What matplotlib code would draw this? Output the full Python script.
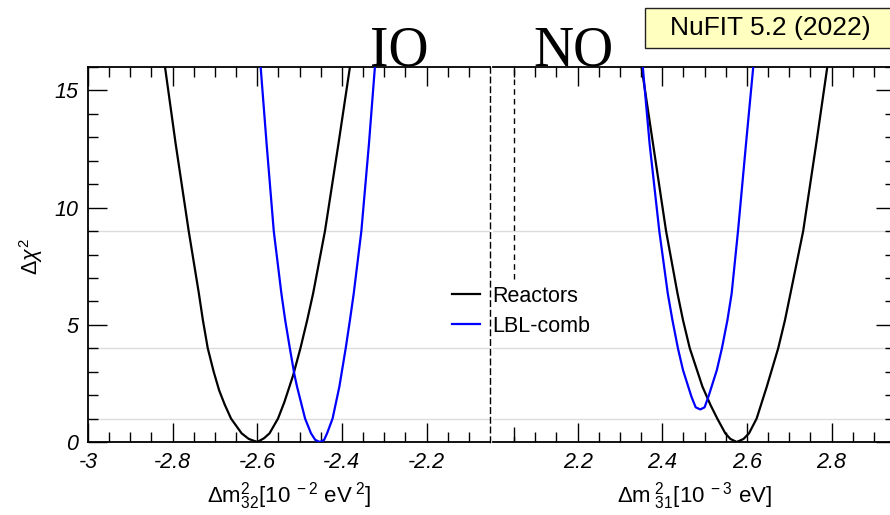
import matplotlib
matplotlib.use("Agg")
import matplotlib.pyplot as plt
from matplotlib.ticker import FixedLocator, FixedFormatter
from matplotlib.patches import Rectangle
from matplotlib.lines import Line2D

plt.rcParams['font.family'] = ['Liberation Sans', 'DejaVu Sans']
plt.rcParams['mathtext.fontset'] = 'custom'
plt.rcParams['mathtext.rm'] = 'Liberation Sans'
plt.rcParams['mathtext.it'] = 'Liberation Sans:italic'
plt.rcParams['mathtext.bf'] = 'Liberation Sans:bold'

# ---------------- data ----------------
# IO panel
io_react_x = [-2.818, -2.793, -2.762, -2.738, -2.7285, -2.717, -2.703, -2.690, -2.677,
              -2.662, -2.637, -2.620, -2.600, -2.584, -2.571, -2.551, -2.536, -2.524,
              -2.515, -2.498, -2.482, -2.468, -2.440, -2.408, -2.381]
io_react_y = [16.0, 12.74, 9.0, 6.34, 5.2, 4.0, 3.0, 2.2, 1.6,
              1.0, 0.37, 0.13, 0.0, 0.16, 0.37, 1.0, 1.7, 2.36,
              2.86, 4.0, 5.2, 6.34, 9.0, 12.74, 16.0]
io_lbl_x = [-2.592, -2.578, -2.561, -2.543, -2.534, -2.523, -2.512, -2.506, -2.487,
            -2.473, -2.463, -2.452, -2.442, -2.435, -2.422, -2.406, -2.391, -2.381,
            -2.372, -2.354, -2.336, -2.322]
io_lbl_y = [16.0, 12.74, 9.0, 6.34, 5.2, 4.0, 2.86, 2.36, 1.0,
            0.37, 0.09, 0.0, 0.09, 0.37, 1.0, 2.36, 4.0, 5.2,
            6.34, 9.0, 12.74, 16.0]

# NO panel
no_react_x = [2.351, 2.378, 2.409, 2.436, 2.449, 2.465, 2.495, 2.514, 2.530, 2.549,
              2.561, 2.576, 2.592, 2.605, 2.623, 2.647, 2.674, 2.690, 2.703, 2.733,
              2.764, 2.790]
no_react_y = [16.0, 12.74, 9.0, 6.34, 5.2, 4.0, 2.36, 1.58, 1.0, 0.37,
              0.13, 0.0, 0.13, 0.37, 1.0, 2.36, 4.0, 5.2, 6.34, 9.0,
              12.74, 16.0]
no_lbl_x = [2.354, 2.370, 2.393, 2.413, 2.424, 2.437, 2.449, 2.469, 2.479, 2.490,
            2.500, 2.509, 2.529, 2.541, 2.554, 2.564, 2.579, 2.598, 2.615]
no_lbl_y = [16.0, 12.74, 9.0, 6.34, 5.2, 4.0, 3.07, 1.93, 1.48, 1.39,
            1.48, 1.93, 3.07, 4.0, 5.2, 6.34, 9.0, 12.74, 16.0]

ref_levels = [1, 4, 9]
y_major = [0, 5, 10, 15]
y_major_labels = ['0', '5', '10', '15']
y_minor = [1, 2, 3, 4, 6, 7, 8, 9, 11, 12, 13, 14, 16]
io_xlim = (-3.0, -2.05)
no_xlim = (2.0, 2.95)
io_major = [-3.0, -2.8, -2.6, -2.4, -2.2]
io_major_labels = ['-3', '-2.8', '-2.6', '-2.4', '-2.2']
io_minor = [-2.95, -2.9, -2.85, -2.75, -2.7, -2.65, -2.55, -2.5, -2.45,
            -2.35, -2.3, -2.25, -2.15, -2.1]
no_major = [2.2, 2.4, 2.6, 2.8]
no_major_labels = ['2.2', '2.4', '2.6', '2.8']
no_minor = [2.05, 2.1, 2.15, 2.25, 2.3, 2.35, 2.45, 2.5, 2.55, 2.65, 2.7,
            2.75, 2.85, 2.9]
no_dash_x = 2.05
no_dash_upper = (6.94, 16.0)
no_dash_lower = (0.0, 0.65)

W, H = 890, 515
fig = plt.figure(figsize=(W / 100, H / 100), dpi=100)

axL = fig.add_axes([88 / W, (H - 442) / H, 402 / W, 375 / H])
axR = fig.add_axes([493 / W, (H - 442) / H, 402 / W, 375 / H])

black = '#000000'
blue = '#0000ff'
grid_c = '#dcdcdc'
dash = (0, (4, 3))

for ax in (axL, axR):
    ax.set_ylim(0, 16)
    for lv in ref_levels:
        ax.axhline(lv, color=grid_c, lw=1.0, zorder=1)
    ax.yaxis.set_major_locator(FixedLocator(y_major))
    ax.yaxis.set_minor_locator(FixedLocator(y_minor))
    ax.tick_params(which='major', direction='in', length=13.7, width=1.0,
                   labelsize=15.5, pad=7)
    ax.tick_params(which='minor', direction='in', length=7, width=1.0)
    for s in ax.spines.values():
        s.set_linewidth(1.3)

axL.plot(io_react_x, io_react_y, color=black, lw=1.6, zorder=3)
axL.plot(io_lbl_x, io_lbl_y, color=blue, lw=1.6, zorder=3)
axR.plot(no_react_x, no_react_y, color=black, lw=1.6, zorder=3)
axR.plot(no_lbl_x, no_lbl_y, color=blue, lw=1.6, zorder=3)

# left panel ticks
axL.set_xlim(*io_xlim)
axL.xaxis.set_major_locator(FixedLocator(io_major))
axL.xaxis.set_major_formatter(FixedFormatter(io_major_labels))
axL.xaxis.set_minor_locator(FixedLocator(io_minor))
axL.tick_params(axis='x', which='both', top=True, bottom=True)
axL.tick_params(axis='y', which='both', left=True, right=False)
axL.spines['right'].set_linestyle(dash)
axL.spines['right'].set_linewidth(1.0)
axL.yaxis.set_major_formatter(FixedFormatter(y_major_labels))

# right panel ticks
axR.set_xlim(*no_xlim)
axR.xaxis.set_major_locator(FixedLocator(no_major))
axR.xaxis.set_major_formatter(FixedFormatter(no_major_labels))
axR.xaxis.set_minor_locator(FixedLocator(no_minor))
axR.tick_params(axis='x', which='both', top=True, bottom=True)
axR.tick_params(axis='y', which='both', left=False, right=True, labelleft=False)
axR.spines['left'].set_visible(False)
axR.axvline(no_dash_x, ymin=no_dash_upper[0] / 16, ymax=no_dash_upper[1] / 16,
            color=black, lw=1.0, ls=dash, zorder=2)
axR.axvline(no_dash_x, ymin=no_dash_lower[0] / 16, ymax=no_dash_lower[1] / 16,
            color=black, lw=1.0, ls=dash, zorder=2)

for ax in (axL, axR):
    for lab in ax.get_xticklabels() + ax.get_yticklabels():
        lab.set_fontstyle('italic')

axL.set_xlabel(r'$\Delta\mathrm{m}^{2}_{32}[10^{\ -2}\ \mathrm{eV}^{\ 2}]$',
               fontsize=16, labelpad=5)
axR.set_xlabel(r'$\Delta\mathrm{m}^{\ 2}_{\ 31}[10^{\ -3}\ \mathrm{eV}]$',
               fontsize=16, labelpad=5)
fig.text(31 / W, 1 - 257 / H, r'$\Delta\chi^{2}$', rotation=90, fontsize=15.5,
         ha='center', va='center')

# titles
fig.text(399 / W, 1 - 66 / H, 'IO', family='Liberation Serif', fontsize=40,
         ha='center', va='baseline')
fig.text(573 / W, 1 - 66 / H, 'NO', family='Liberation Serif', fontsize=40,
         ha='center', va='baseline')

# NuFIT box
fig.patches.append(Rectangle((645 / W, 1 - 48 / H), 252 / W, 40 / H,
                             transform=fig.transFigure, facecolor='#ffffc0',
                             edgecolor='#222222', lw=1.0))
fig.text(770 / W, 1 - 28 / H, 'NuFIT 5.2 (2022)', fontsize=19,
         ha='center', va='center')

# legend
handles = [Line2D([], [], color=black, lw=1.6), Line2D([], [], color=blue, lw=1.6)]
fig.legend(handles, ['Reactors', 'LBL-comb'], loc='upper left',
           bbox_to_anchor=(452 / W, 1 - 286 / H), frameon=False, fontsize=15.5,
           borderpad=0, borderaxespad=0, handlelength=1.3, handletextpad=0.55,
           labelspacing=0.4)

fig.savefig('out.png', dpi=100)
